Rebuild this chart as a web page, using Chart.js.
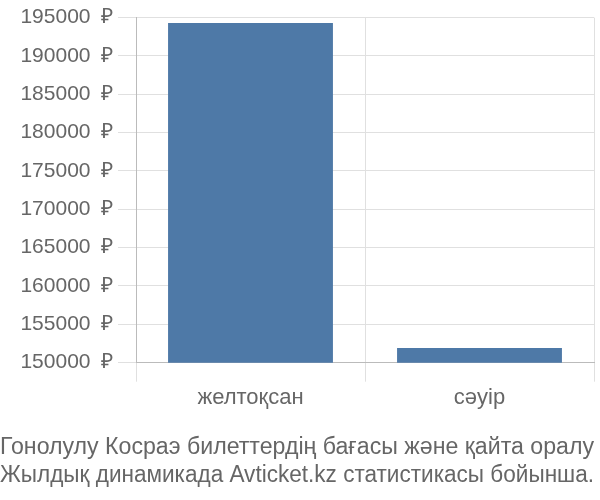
<!DOCTYPE html>
<html>
<head>
<meta charset="utf-8">
<script src="https://cdn.jsdelivr.net/npm/chart.js@4"></script>
<style>
  html, body { margin: 0; padding: 0; background: #fff; }
  #wrap { width: 600px; height: 500px; }
</style>
</head>
<body>
<div id="wrap"><canvas id="chart"></canvas></div>
<script>
// data
const months = ['желтоқсан', 'сәуір'];
const prices = [194300, 151900];
const titleLines = [
  'Гонолулу Косраэ билеттердің бағасы және қайта оралу',
  'Жылдық динамикада Avticket.kz статистикасы бойынша.'
];

Chart.defaults.font.family = '"Liberation Sans", Arial, sans-serif';
Chart.defaults.color = '#666';

new Chart(document.getElementById('chart'), {
  type: 'bar',
  data: {
    labels: months,
    datasets: [{
      data: prices,
      backgroundColor: '#4e79a7',
      borderWidth: 0
    }]
  },
  options: {
    responsive: true,
    maintainAspectRatio: false,
    animation: false,
    layout: { padding: { top: 0, right: 6, bottom: 0, left: 0 } },
    plugins: {
      legend: { display: false },
      tooltip: { enabled: false },
      title: {
        display: true,
        position: 'bottom',
        text: titleLines,
        color: '#666',
        font: { size: 23.3, weight: 'normal' },
        padding: { top: 20, bottom: 10 },
        lineHeight: 1.2
      }
    },
    scales: {
      x: {
        grid: { color: '#e0e0e0', tickLength: 19, offset: true },
        border: { color: '#bbb' },
        ticks: { font: { size: 22 }, color: '#666', padding: 3 }
      },
      y: {
        min: 150000,
        max: 195000,
        afterFit: (axis) => { axis.width = 136; },
        grid: { color: '#e0e0e0', tickLength: 18 },
        border: { color: '#bbb' },
        ticks: {
          stepSize: 5000,
          font: { size: 21 },
          color: '#666',
          padding: 5,
          callback: (v) => v + '\u2002₽'
        }
      }
    }
  }
});
</script>
</body>
</html>
